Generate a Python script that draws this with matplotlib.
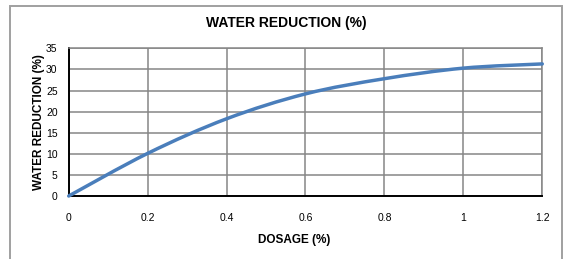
import matplotlib.pyplot as plt
from matplotlib.patches import Rectangle, PathPatch
from matplotlib.path import Path

plt.rcParams['font.family'] = ['Liberation Sans', 'DejaVu Sans']

# dosage (%) vs water reduction (%)
dosage = [0, 0.2, 0.4, 0.6, 0.8, 1.0, 1.2]
reduction = [0, 10.1, 18.3, 24.2, 27.8, 30.3, 31.3]

x_ticks = [0, 0.2, 0.4, 0.6, 0.8, 1.0, 1.2]
x_labels = ["0", "0.2", "0.4", "0.6", "0.8", "1", "1.2"]
y_ticks = [0, 5, 10, 15, 20, 25, 30, 35]


def smooth_path(xs, ys, k=1 / 6):
    # Excel-style smoothed line: bezier segments through the data points
    verts = [(xs[0], ys[0])]
    codes = [Path.MOVETO]
    n = len(xs)
    for i in range(n - 1):
        x0, y0 = xs[max(i - 1, 0)], ys[max(i - 1, 0)]
        x1, y1 = xs[i], ys[i]
        x2, y2 = xs[i + 1], ys[i + 1]
        x3, y3 = xs[min(i + 2, n - 1)], ys[min(i + 2, n - 1)]
        verts += [(x1 + (x2 - x0) * k, y1 + (y2 - y0) * k),
                  (x2 - (x3 - x1) * k, y2 - (y3 - y1) * k),
                  (x2, y2)]
        codes += [Path.CURVE4] * 3
    return Path(verts, codes)


def main():
    fig = plt.figure(figsize=(5.66, 2.59), dpi=100)
    fig.patches.append(Rectangle((10 / 566, -0.1), 552 / 566, 1.1 - 6 / 259,
                                 transform=fig.transFigure, fill=False,
                                 edgecolor="#a0a0a0", linewidth=1.4))
    ax = fig.add_axes([0.1214, 0.2432, 0.8367, 0.5703])

    line = PathPatch(smooth_path(dosage, reduction), fill=False,
                     edgecolor="#4a7ebb", linewidth=2.5, capstyle="round",
                     clip_on=False, zorder=3)
    ax.add_patch(line)

    ax.set_xlim(0, 1.2)
    ax.set_ylim(0, 35)
    ax.set_xticks(x_ticks)
    ax.set_xticklabels(x_labels)
    ax.set_yticks(y_ticks)
    ax.tick_params(axis="both", length=0, labelsize=7.5)
    ax.tick_params(axis="x", pad=12)
    ax.tick_params(axis="y", pad=8)
    ax.grid(True, color="#868686", linewidth=1.1)
    ax.set_axisbelow(True)

    for side in ("top", "right"):
        ax.spines[side].set_color("#868686")
        ax.spines[side].set_linewidth(1.1)
    for side in ("left", "bottom"):
        ax.spines[side].set_color("black")
        ax.spines[side].set_linewidth(1.4)

    fig.text(0.506, 0.91, "WATER REDUCTION (%)", ha="center", va="center",
             fontsize=10, fontweight="bold")
    fig.text(0.52, 0.073, "DOSAGE (%)", ha="center", va="center",
             fontsize=8.5, fontweight="bold")
    fig.text(0.069, 0.53, "WATER REDUCTION (%)", ha="center", va="center",
             rotation=90, fontsize=8.5, fontweight="bold")

    fig.savefig("out.png", dpi=100)


if __name__ == "__main__":
    main()
